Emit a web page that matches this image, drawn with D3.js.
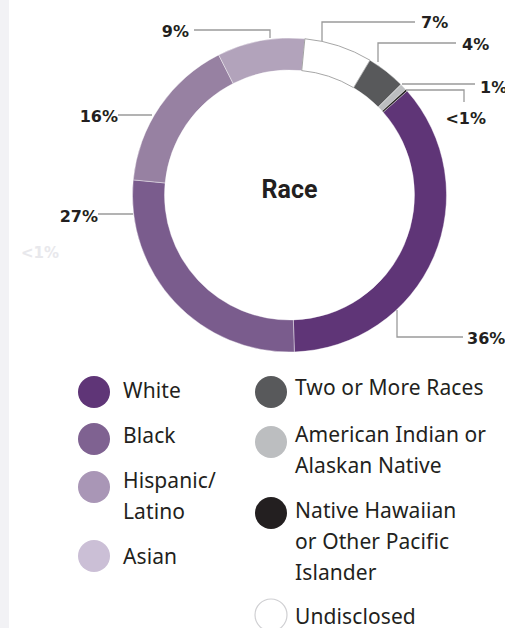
<!DOCTYPE html>
<html>
<head>
<meta charset="utf-8">
<script src="https://cdn.jsdelivr.net/npm/d3@7"></script>
<style>
  html, body { margin: 0; padding: 0; background: #fff; }
  svg { display: block; }
</style>
</head>
<body>
<div id="chart"></div>
<script>
// Race breakdown, clockwise from the White segment
const categories = ["White", "Black", "Hispanic/Latino", "Asian", "Undisclosed",
    "Two or More Races", "American Indian or Alaskan Native", "Native Hawaiian or Other Pacific Islander"];
const values = [36, 27, 16, 9, 7, 4, 0.7, 0.2];
const labels = ["36%", "27%", "16%", "9%", "7%", "4%", "1%", "<1%"];

const ringColors = ["#5f3577", "#7a5c8d", "#9781a2", "#b2a3bb", "#ffffff", "#58595b", "#bcbec0", "#231f20"];
const legendColors = ["#5f3577", "#7f6291", "#a996b6", "#cbbfd6", "#ffffff", "#58595b", "#bcbec0", "#231f20"];

// legend rows: [category index, lines]
const legendLeft = [
    [0, ["White"]],
    [1, ["Black"]],
    [2, ["Hispanic/", "Latino"]],
    [3, ["Asian"]]
];
const legendRight = [
    [5, ["Two or More Races"]],
    [6, ["American Indian or", "Alaskan Native"]],
    [7, ["Native Hawaiian", "or Other Pacific", "Islander"]],
    [4, ["Undisclosed"]]
];

const W = 505, H = 628;
const cx = 289.5, cy = 195, rOut = 157, rIn = 125;

const svg = d3.select("#chart").append("svg")
    .attr("width", W).attr("height", H);

// grey strip on the left edge
svg.append("rect").attr("x", 0).attr("y", 0).attr("width", 9).attr("height", H).attr("fill", "#f2f2f5");

const startDeg = 48.5;
const pie = d3.pie().sort(null)
    .startAngle(startDeg * Math.PI / 180)
    .endAngle(startDeg * Math.PI / 180 + 2 * Math.PI);
const arcs = pie(values);

const arc = d3.arc().innerRadius(rIn).outerRadius(rOut);

const ring = svg.append("g").attr("transform", `translate(${cx},${cy})`);
ring.selectAll("path")
    .data(arcs)
    .join("path")
    .attr("d", arc)
    .attr("fill", (d, i) => ringColors[i])
    .attr("stroke", (d, i) => i === 4 ? "#8f8f8f" : "#ffffff")
    .attr("stroke-width", (d, i) => i === 4 ? 0.8 : 0.4);

ring.append("text")
    .attr("x", 0).attr("y", 3)
    .attr("text-anchor", "middle")
    .attr("font-family", "Roboto, 'Open Sans', sans-serif")
    .attr("font-weight", "bold")
    .attr("font-size", 25)
    .attr("fill", "#231f20")
    .text("Race");

// leader lines: polyline points, then label position
const leaders = [
    { pts: [[397, 310], [397, 337], [463, 337]], tx: 467, ty: 338, anchor: "start" },
    { pts: [[133, 214], [98, 214]], tx: 98, ty: 216, anchor: "end" },
    { pts: [[152, 115], [118, 115]], tx: 118, ty: 116, anchor: "end" },
    { pts: [[270, 38], [270, 30], [194, 30]], tx: 189, ty: 31, anchor: "end" },
    { pts: [[322, 41], [322, 22], [415, 22]], tx: 421, ty: 22, anchor: "start" },
    { pts: [[378, 62], [378, 43], [456, 43]], tx: 462, ty: 44, anchor: "start" },
    { pts: [[402, 84], [475, 84]], tx: 480, ty: 87, anchor: "start" },
    { pts: [[406, 90], [464, 90], [464, 102]], tx: 486, ty: 118, anchor: "end" }
];

const lbl = svg.append("g");
leaders.forEach((l, i) => {
    lbl.append("path")
        .attr("d", d3.line()(l.pts))
        .attr("fill", "none")
        .attr("stroke", "#9a9a9a")
        .attr("stroke-width", 1.3);
    lbl.append("text")
        .attr("x", l.tx).attr("y", l.ty)
        .attr("dy", "0.36em")
        .attr("text-anchor", l.anchor)
        .attr("font-family", "'DejaVu Sans', sans-serif")
        .attr("font-weight", "bold")
        .attr("font-size", 16)
        .attr("fill", "#231f20")
        .text(labels[i]);
});

// faded stray label on the left
svg.append("text")
    .attr("x", 21).attr("y", 253).attr("dy", "0.36em")
    .attr("font-family", "'DejaVu Sans', sans-serif")
    .attr("font-weight", "bold")
    .attr("font-size", 15)
    .attr("fill", "#e8e8ec")
    .text("<1%");

// legend
function drawLegend(rows, circleX, textX, circleYs, baselines) {
    const g = svg.append("g");
    rows.forEach(([idx, lines], r) => {
        g.append("circle")
            .attr("cx", circleX).attr("cy", circleYs[r]).attr("r", 16)
            .attr("fill", legendColors[idx])
            .attr("stroke", idx === 4 ? "#cfcfd2" : "none")
            .attr("stroke-width", 1.2);
        const t = g.append("text")
            .attr("font-family", "'Noto Sans', sans-serif")
            .attr("font-size", 21)
            .attr("letter-spacing", 0.1)
            .attr("fill", "#231f20");
        lines.forEach((s, k) => {
            t.append("tspan").attr("x", textX).attr("y", baselines[r] + k * 31).text(s);
        });
    });
}

drawLegend(legendLeft, 94, 123, [392, 439, 487, 556], [398, 443, 488, 564]);
drawLegend(legendRight, 271, 295, [392, 442, 513, 615], [395, 442, 518, 624]);
</script>
</body>
</html>
